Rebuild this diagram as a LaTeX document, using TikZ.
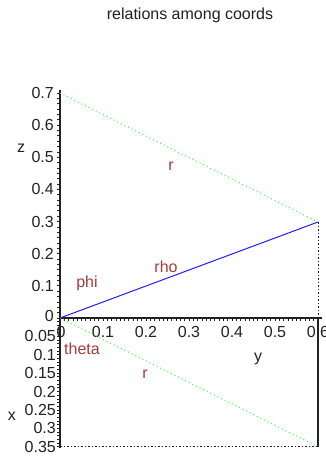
\documentclass[tikz,border=0pt]{standalone}
\usepackage{fontspec}
\setmainfont{Liberation Sans}
\usepackage{xcolor}
\usepackage{tikz}
\usetikzlibrary{positioning,calc}
\definecolor{inkgrey}{HTML}{222222}
\definecolor{labelred}{HTML}{A63C3C}
\definecolor{rhoblue}{HTML}{2020F0}
\definecolor{rgreen}{HTML}{33FF33}

\begin{document}
\begin{tikzpicture}[x={(1pt,0)},y={(0,-1pt)},
    every node/.style={font=\fontsize{16}{18}\selectfont,text=inkgrey,inner sep=0pt},
    curvelabel/.style={text=labelred},
    axisline/.style={draw=inkgrey,line width=1.4pt},
    tickmark/.style={draw=inkgrey,line width=0.8pt},
    greendots/.style={draw=rgreen,line width=1pt,dash pattern=on 1pt off 3pt},
    guidedots/.style={draw=inkgrey,line width=0.9pt,dash pattern=on 1.5pt off 2pt}]
    \useasboundingbox[fill=white] (0,0) rectangle (325,456);
    % corners of the plot
    \coordinate (O) at (60,318);
    \coordinate (Ztop) at (60,93);
    \coordinate (P) at (318,222);
    \coordinate (Yend) at (318,318);
    \coordinate (Xbot) at (60,446.7);
    \coordinate (Q) at (318,446.7);
    % title
    \node (title) at (190,15) {relations among coords};
    % axes
    \draw[axisline] (60,90) -- (60,448);
    \draw[axisline] (O) -- (322,318);
    \foreach \k in {0,...,42}
      \draw[tickmark] (60,318-\k*5.357) -- ++(-3,0);
    \foreach \k in {1,...,35}
      \draw[tickmark] (60,318+\k*3.677) -- ++(-3,0);
    \foreach \k in {1,...,60}
      \draw[tickmark] (60+\k*4.3,318) -- ++(0,3);
    % tick labels
    \foreach \v [count=\i] in {0.1,0.2,0.3,0.4,0.5,0.6,0.7}
      \node[anchor=east] at (54,318-\i*32.14) {\v};
    \node[anchor=east] at (54,316) {0};
    \foreach \v [count=\i] in {0.05,0.1,0.15,0.2,0.25,0.3,0.35}
      \node[anchor=east] at (56,318+\i*18.38) {\v};
    \node at (61,332) {0};
    \foreach \v [count=\i] in {0.1,0.2,0.3,0.4,0.5,0.6}
      \node at (60+\i*43,332) {\v};
    \node (zlab) at (21,148) {z};
    \node (xlab) at (12,416) {x};
    \node (ylab) at (258,359) {y};
    % relations
    \draw[greendots] (Ztop) -- (P);
    \draw[greendots] (O) -- (Q);
    \draw[rhoblue,line width=1pt] (O) -- (P);
    \draw[guidedots] (P) -- (Yend);
    \draw[inkgrey,line width=1.4pt] (Yend) -- (Q);
    \draw[guidedots] (Xbot) -- (Q);
    \node[curvelabel] (rtop) at (171,166) {r};
    \node[curvelabel] (rho) at (166,267) {rho};
    \node[curvelabel] (phi) at (87,283) {phi};
    \node[curvelabel] (theta) at (82,349) {theta};
    \node[curvelabel] (rbot) at (145,374) {r};
\end{tikzpicture}
\end{document}
